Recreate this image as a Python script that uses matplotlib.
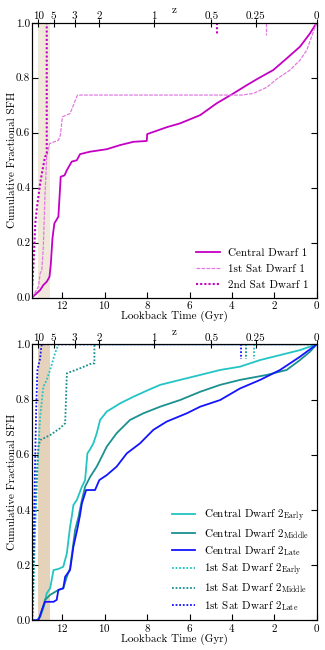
import numpy as np
import matplotlib
matplotlib.use("Agg")
from matplotlib import pyplot as plt

plt.rcParams['font.family'] = 'serif'
plt.rcParams['font.serif'] = ['cmr10', 'DejaVu Serif']
plt.rcParams['mathtext.fontset'] = 'cm'
plt.rcParams['axes.formatter.use_mathtext'] = True
plt.rcParams['font.size'] = 8

# ---- data (lookback time in Gyr, cumulative fraction) ----
cen1_t = [13.44, 13.05, 12.9, 12.74, 12.61, 12.55, 12.47, 12.38, 12.19, 12.08, 11.9, 11.79,
          11.56, 11.32, 11.17, 10.7, 9.91, 9.28, 8.65, 8.02, 8.0, 7.08, 6.45, 5.5, 4.72,
          3.93, 3.3, 2.75, 2.05, 1.42, 0.79, 0.32, 0.0]
cen1_f = [0.0, 0.028, 0.046, 0.058, 0.076, 0.12, 0.216, 0.27, 0.295, 0.44, 0.445, 0.464,
          0.495, 0.5, 0.522, 0.531, 0.54, 0.555, 0.567, 0.57, 0.595, 0.62, 0.634, 0.664, 0.707,
          0.743, 0.773, 0.798, 0.828, 0.87, 0.913, 0.961, 1.0]

sat1_t = [13.44, 13.13, 13.05, 12.97, 12.9, 12.82, 12.74, 12.61, 12.19, 12.1, 12.0, 11.64,
          11.56, 11.29, 3.54, 2.99, 2.36, 1.89, 1.26, 0.79, 0.47, 0.24, 0.0]
sat1_f = [0.0, 0.04, 0.089, 0.1, 0.186, 0.38, 0.513, 0.56, 0.573, 0.59, 0.658, 0.67,
          0.685, 0.737, 0.737, 0.743, 0.765, 0.795, 0.828, 0.864, 0.9, 0.95, 1.0]

sat2_t = [13.44, 13.37, 13.32, 13.28, 13.2, 13.05, 12.94, 12.82, 12.74, 12.74, 0.0]
sat2_f = [0.03, 0.113, 0.198, 0.27, 0.33, 0.416, 0.464, 0.513, 0.52, 1.0, 1.0]

early_t = [13.44, 13.2, 13.05, 12.9, 12.74, 12.58, 12.42, 12.19, 11.96, 11.79, 11.64, 11.56,
           11.48, 11.32, 11.08, 10.93, 10.82, 10.69, 10.54, 10.38, 10.22, 9.91, 9.28, 8.65,
           8.02, 7.39, 6.45, 5.5, 4.56, 3.62, 2.67, 1.73, 0.79, 0.0]
early_f = [0.0, 0.0, 0.013, 0.043, 0.098, 0.116, 0.182, 0.186, 0.194, 0.243, 0.339, 0.375,
           0.418, 0.436, 0.484, 0.508, 0.605, 0.62, 0.641, 0.678, 0.726, 0.756, 0.786, 0.81,
           0.832, 0.853, 0.871, 0.889, 0.907, 0.919, 0.943, 0.961, 0.979, 1.0]

middle_t = [13.44, 13.2, 13.05, 12.82, 12.58, 12.19, 11.96, 11.79, 11.64, 11.4, 11.24, 11.08,
            10.93, 10.69, 10.38, 10.22, 9.91, 9.44, 8.81, 8.18, 7.39, 6.45, 5.5, 4.56, 3.62,
            2.36, 1.42, 0.79, 0.32, 0.0]
middle_f = [0.0, 0.0, 0.013, 0.074, 0.092, 0.11, 0.116, 0.158, 0.188, 0.327, 0.375, 0.436,
            0.484, 0.52, 0.557, 0.581, 0.629, 0.678, 0.726, 0.75, 0.774, 0.798, 0.828, 0.853,
            0.871, 0.889, 0.907, 0.943, 0.973, 1.0]

late_t = [13.44, 13.13, 12.97, 12.82, 12.42, 12.27, 12.19, 11.96, 11.87, 11.64, 11.48, 11.29,
          11.17, 11.08, 10.88, 10.46, 10.26, 9.91, 9.44, 8.96, 8.34, 7.71, 7.08, 6.13, 5.5,
          4.56, 3.62, 2.67, 1.73, 0.79, 0.0]
late_f = [0.0, 0.0, 0.037, 0.067, 0.067, 0.074, 0.11, 0.116, 0.158, 0.182, 0.267, 0.333,
          0.381, 0.424, 0.472, 0.472, 0.508, 0.526, 0.557, 0.605, 0.641, 0.69, 0.72, 0.75,
          0.774, 0.798, 0.84, 0.871, 0.907, 0.955, 1.0]

satE_t = [13.42, 13.38, 13.3, 13.2, 13.13, 13.05, 12.9, 12.74, 12.58, 12.35, 12.19, 0.0]
satE_f = [0.0, 0.05, 0.3, 0.5, 0.629, 0.738, 0.846, 0.871, 0.907, 0.967, 1.0, 1.0]

satM_t = [13.43, 13.4, 13.3, 13.2, 13.13, 13.05, 12.58, 12.11, 11.87, 11.79, 11.17, 10.61,
          10.49, 10.49, 0.0]
satM_f = [0.0, 0.1, 0.35, 0.55, 0.63, 0.653, 0.671, 0.696, 0.714, 0.895, 0.913, 0.931,
          0.931, 1.0, 1.0]

satL_t = [13.43, 13.38, 13.32, 13.28, 13.24, 13.18, 13.05, 13.0, 12.97, 0.0]
satL_f = [0.0, 0.2, 0.45, 0.605, 0.76, 0.907, 0.949, 0.99, 1.0, 1.0]

# infall markers (lookback time)
infall_top = [4.72, 2.39]
infall_bot = [3.58, 3.33, 2.96]

z_ticks = [10, 5, 3, 2, 1, 0.5, 0.25, 0]
z_labels = ['10', '5', '3', '2', '1', '0.5', '0.25', '0']
reion_t = (13.16, 12.6)
t_max = 13.45

# ---- cosmology for the redshift axis ----
H0, Om = 72.0, 0.26
OL = 1.0 - Om
t_H = 977.8 / H0


def age(z):
    return 2.0 / (3.0 * np.sqrt(OL)) * np.arcsinh(np.sqrt(OL / Om) * (1.0 + np.asarray(z)) ** -1.5) * t_H


def lookback(z):
    return age(0) - age(z)


c_mag = '#c400c4'
c_pink = '#e27ae2'
c_cyan = '#22c4c4'
c_teal = '#1a9090'
c_blue = '#1414ff'


def setup(ax, alpha):
    ax.axvspan(reion_t[0], reion_t[1], color='tan', alpha=alpha, lw=0, zorder=0)
    ax.set_xlim(t_max, 0)
    ax.set_ylim(0, 1)
    ax.set_xticks([12, 10, 8, 6, 4, 2, 0])
    ax.set_yticks([0, 0.2, 0.4, 0.6, 0.8, 1.0])
    ax.set_yticklabels(['0.0', '0.2', '0.4', '0.6', '0.8', '1.0'])
    ax.tick_params(direction='in', right=True, top=False, length=4, pad=1)
    ax.set_xlabel('Lookback Time (Gyr)', labelpad=0)
    ax.set_ylabel('Cumulative Fractional SFH', labelpad=-1)
    top = ax.twiny()
    top.set_xlim(t_max, 0)
    top.set_xticks(lookback(z_ticks))
    top.set_xticklabels(z_labels)
    top.tick_params(direction='inout', length=6, pad=-2)
    top.set_xlabel('z', labelpad=-1)


fig = plt.figure(figsize=(3.25, 6.5), dpi=100)
ax1 = fig.add_axes([0.0975, 0.542, 0.877, 0.423])
ax2 = fig.add_axes([0.0975, 0.0457, 0.877, 0.4246])

setup(ax1, 0.3)
ax1.plot(cen1_t, cen1_f, color=c_mag, lw=1.3, label='Central Dwarf 1')
ax1.plot(sat1_t, sat1_f, color=c_pink, lw=0.9, ls=(0, (3, 1)), label='1st Sat Dwarf 1')
ax1.plot(sat2_t, sat2_f, color=c_mag, lw=1.5, ls=(0, (1, 1)), label='2nd Sat Dwarf 1')
ax1.plot([infall_top[0]] * 2, [1.0, 0.955], color=c_mag, lw=1.5, ls=(0, (1, 1)))
ax1.plot([infall_top[1]] * 2, [1.0, 0.955], color=c_pink, lw=0.9, ls=(0, (3, 1)))
ax1.legend(loc='lower right', frameon=False, handlelength=2.1, labelspacing=0.55,
           borderaxespad=0.3)

setup(ax2, 0.6)
ax2.plot(early_t, early_f, color=c_cyan, lw=1.3, label=r'Central Dwarf 2$_{\rm Early}$')
ax2.plot(middle_t, middle_f, color=c_teal, lw=1.3, label=r'Central Dwarf 2$_{\rm Middle}$')
ax2.plot(late_t, late_f, color=c_blue, lw=1.3, label=r'Central Dwarf 2$_{\rm Late}$')
ax2.plot(satE_t, satE_f, color=c_cyan, lw=1.3, ls=(0, (1, 1)), label=r'1st Sat Dwarf 2$_{\rm Early}$')
ax2.plot(satM_t, satM_f, color=c_teal, lw=1.3, ls=(0, (1, 1)), label=r'1st Sat Dwarf 2$_{\rm Middle}$')
ax2.plot(satL_t, satL_f, color=c_blue, lw=1.3, ls=(0, (1, 1)), label=r'1st Sat Dwarf 2$_{\rm Late}$')
for tt, cc in zip(infall_bot, [c_blue, c_teal, c_cyan]):
    ax2.plot([tt, tt], [1.0, 0.946], color=cc, lw=1.3, ls=(0, (1, 1)))
ax2.legend(loc='lower right', frameon=False, handlelength=2.1, labelspacing=0.3,
           borderaxespad=0.3)

fig.savefig('out.png', dpi=100)
